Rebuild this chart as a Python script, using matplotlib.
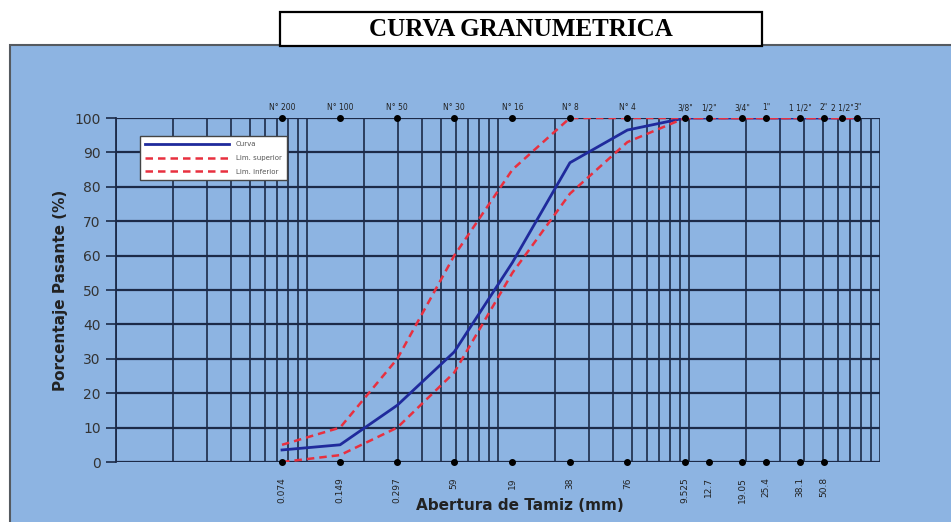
import matplotlib

matplotlib.use("Agg")
import matplotlib.pyplot as plt
from matplotlib.patches import Rectangle

# Sieve openings (mm) and names
sieve_mm = [0.074, 0.149, 0.297, 0.59, 1.19, 2.38, 4.76, 9.525, 12.7, 19.05, 25.4, 38.1, 50.8, 63.5, 76.2]
sieve_names = ["N° 200", "N° 100", "N° 50", "N° 30", "N° 16", "N° 8", "N° 4",
               '3/8"', '1/2"', '3/4"', '1"', '1 1/2"', '2"', '2 1/2"', '3"']
# Labels printed below the axis (as they appear, partly clipped in the original)
bottom_labels = ["0.074", "0.149", "0.297", "59", "19", "38", "76",
                 "9.525", "12.7", "19.05", "25.4", "38.1", "50.8"]

curva = [3.5, 5, 16.5, 32, 58, 87, 96.5, 100, 100, 100, 100, 100, 100, 100, 100]
lim_superior = [5, 10, 30, 60, 85, 100, 100, 100, 100, 100, 100, 100, 100, 100, 100]
lim_inferior = [0, 2, 10, 26, 55, 78, 93, 100, 100, 100, 100, 100, 100, 100, 100]

BLUE_BG = "#8db4e2"
GRID = "#1c2a48"

W, H = 951, 522
fig = plt.figure(figsize=(W / 100, H / 100), dpi=100, facecolor="white")

# blue panel behind the chart
fig.add_artist(Rectangle((10 / W, -0.01), 1.0, 1 - 45 / H + 0.01, transform=fig.transFigure,
                         facecolor=BLUE_BG, edgecolor="#555a60", lw=1.5, zorder=-10))
# title box
fig.add_artist(Rectangle((280 / W, 1 - 46 / H), 482 / W, 34 / H, transform=fig.transFigure,
                         facecolor="white", edgecolor="black", lw=1.6, zorder=5))
fig.text(521 / W, 1 - 29 / H, "CURVA GRANUMETRICA", ha="center", va="center",
         fontsize=18, fontweight="bold", family="Liberation Serif", zorder=6)

ax = fig.add_axes([116 / W, 1 - 462 / H, 764 / W, 344 / H])
ax.set_facecolor(BLUE_BG)
ax.set_xscale("log")
ax.set_xlim(0.01, 100)
ax.set_ylim(0, 100)
ax.set_yticks(range(0, 101, 10))
ax.grid(True, which="both", axis="x", color=GRID, lw=1.2)
ax.grid(True, which="major", axis="y", color=GRID, lw=1.6)
ax.tick_params(axis="x", which="both", length=0, labelbottom=False)
ax.tick_params(axis="y", direction="out", length=7, width=1.2, color=GRID,
               labelsize=10, labelcolor="#333333", pad=4)
for s in ("top", "right", "bottom"):
    ax.spines[s].set_visible(False)
ax.spines["left"].set_color(GRID)
ax.spines["left"].set_linewidth(1.3)

ax.plot(sieve_mm, curva, color="#1f2a9c", lw=2.0, label="Curva", zorder=4)
ax.plot(sieve_mm, lim_superior, color="#e8303f", lw=1.8, ls=(0, (3, 2)), label="Lim. superior", zorder=5)
ax.plot(sieve_mm, lim_inferior, color="#e8303f", lw=1.8, ls=(0, (3, 2)), label="Lim. inferior", zorder=5)

# sieve markers on top and bottom edges
ax.plot(sieve_mm, [100] * len(sieve_mm), "o", color="black", ms=4, clip_on=False, zorder=6)
ax.plot(sieve_mm[:len(bottom_labels)], [0] * len(bottom_labels), "o", color="black", ms=4,
        clip_on=False, zorder=6)
for x, name in zip(sieve_mm, sieve_names):
    ax.annotate(name, (x, 100), xytext=(0, 4), textcoords="offset points", ha="center",
                va="bottom", fontsize=5.5, color="#222222")
for x, lab in zip(sieve_mm, bottom_labels):
    ax.annotate(lab, (x, 0), xytext=(0, -11), textcoords="offset points", ha="center",
                va="top", rotation=90, fontsize=6.5, color="#222222")

leg = ax.legend(loc="upper left", bbox_to_anchor=(0.031, 0.948), fontsize=5, frameon=True,
                fancybox=False, borderaxespad=0, handlelength=12, labelspacing=1.1,
                borderpad=0.8, handletextpad=1.0)
leg.get_frame().set_edgecolor("#444444")
leg.get_frame().set_facecolor("white")
leg.get_frame().set_alpha(1)
for t in leg.get_texts():
    t.set_color("#555555")

fig.text(520 / W, 1 - 505 / H, "Abertura de Tamiz (mm)", ha="center", va="center",
         fontsize=11, fontweight="bold", color="#222222")
fig.text(60 / W, 1 - 290 / H, "Porcentaje Pasante (%)", ha="center", va="center",
         rotation=90, fontsize=11, fontweight="bold", color="#222222")

fig.savefig("out.png", dpi=100, facecolor="white")
